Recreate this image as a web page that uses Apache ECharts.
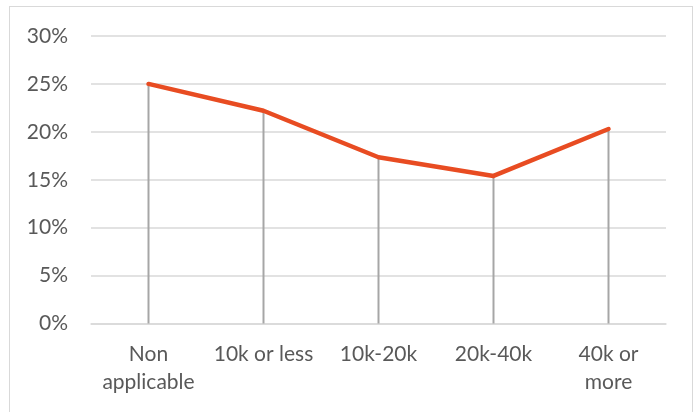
<!DOCTYPE html>
<html>
<head>
<meta charset="utf-8">
<script src="https://cdn.jsdelivr.net/npm/echarts@6/dist/echarts.min.js"></script>
<style>
html,body{margin:0;padding:0;background:#fff;}
#frame{position:absolute;left:9px;top:6px;width:684px;height:420px;border:1px solid #d9d9d9;box-sizing:border-box;}
#chart{position:absolute;left:0;top:0;width:695px;height:412px;}
</style>
</head>
<body>
<div id="frame"></div>
<div id="chart"></div>
<script>
const categories = ['Non\napplicable', '10k or less', '10k-20k', '20k-40k', '40k or\nmore'];
const values = [25.0, 22.2, 17.35, 15.4, 20.3];
const yTicks = [0, 5, 10, 15, 20, 25, 30];

const chart = echarts.init(document.getElementById('chart'), null, {renderer: 'canvas'});
const font = 'Lato';
chart.setOption({
  animation: false,
  grid: {left: 91, right: 29, top: 36, bottom: 88.5, containLabel: false},
  xAxis: {
    type: 'category',
    data: categories,
    boundaryGap: true,
    axisLine: {show: true, lineStyle: {color: '#d9d9d9', width: 1.5}},
    axisTick: {show: false},
    axisLabel: {color: '#595959', fontSize: 21, fontFamily: font, lineHeight: 28, margin: 17, interval: 0}
  },
  yAxis: {
    type: 'value',
    min: yTicks[0],
    max: yTicks[yTicks.length - 1],
    interval: 5,
    axisLine: {show: false},
    axisTick: {show: false},
    splitLine: {lineStyle: {color: '#d9d9d9', width: 1.5}},
    axisLabel: {color: '#595959', fontSize: 21, fontFamily: font, margin: 23, formatter: v => v + '%'}
  },
  series: [
    {
      type: 'bar',
      data: values,
      barWidth: 2,
      itemStyle: {color: '#a6a6a6'},
      z: 2,
      silent: true
    },
    {
      type: 'line',
      data: values,
      symbol: 'none',
      lineStyle: {color: '#E84C22', width: 4.5, cap: 'round', join: 'round'},
      z: 3,
      silent: true
    }
  ]
});
</script>
</body>
</html>
